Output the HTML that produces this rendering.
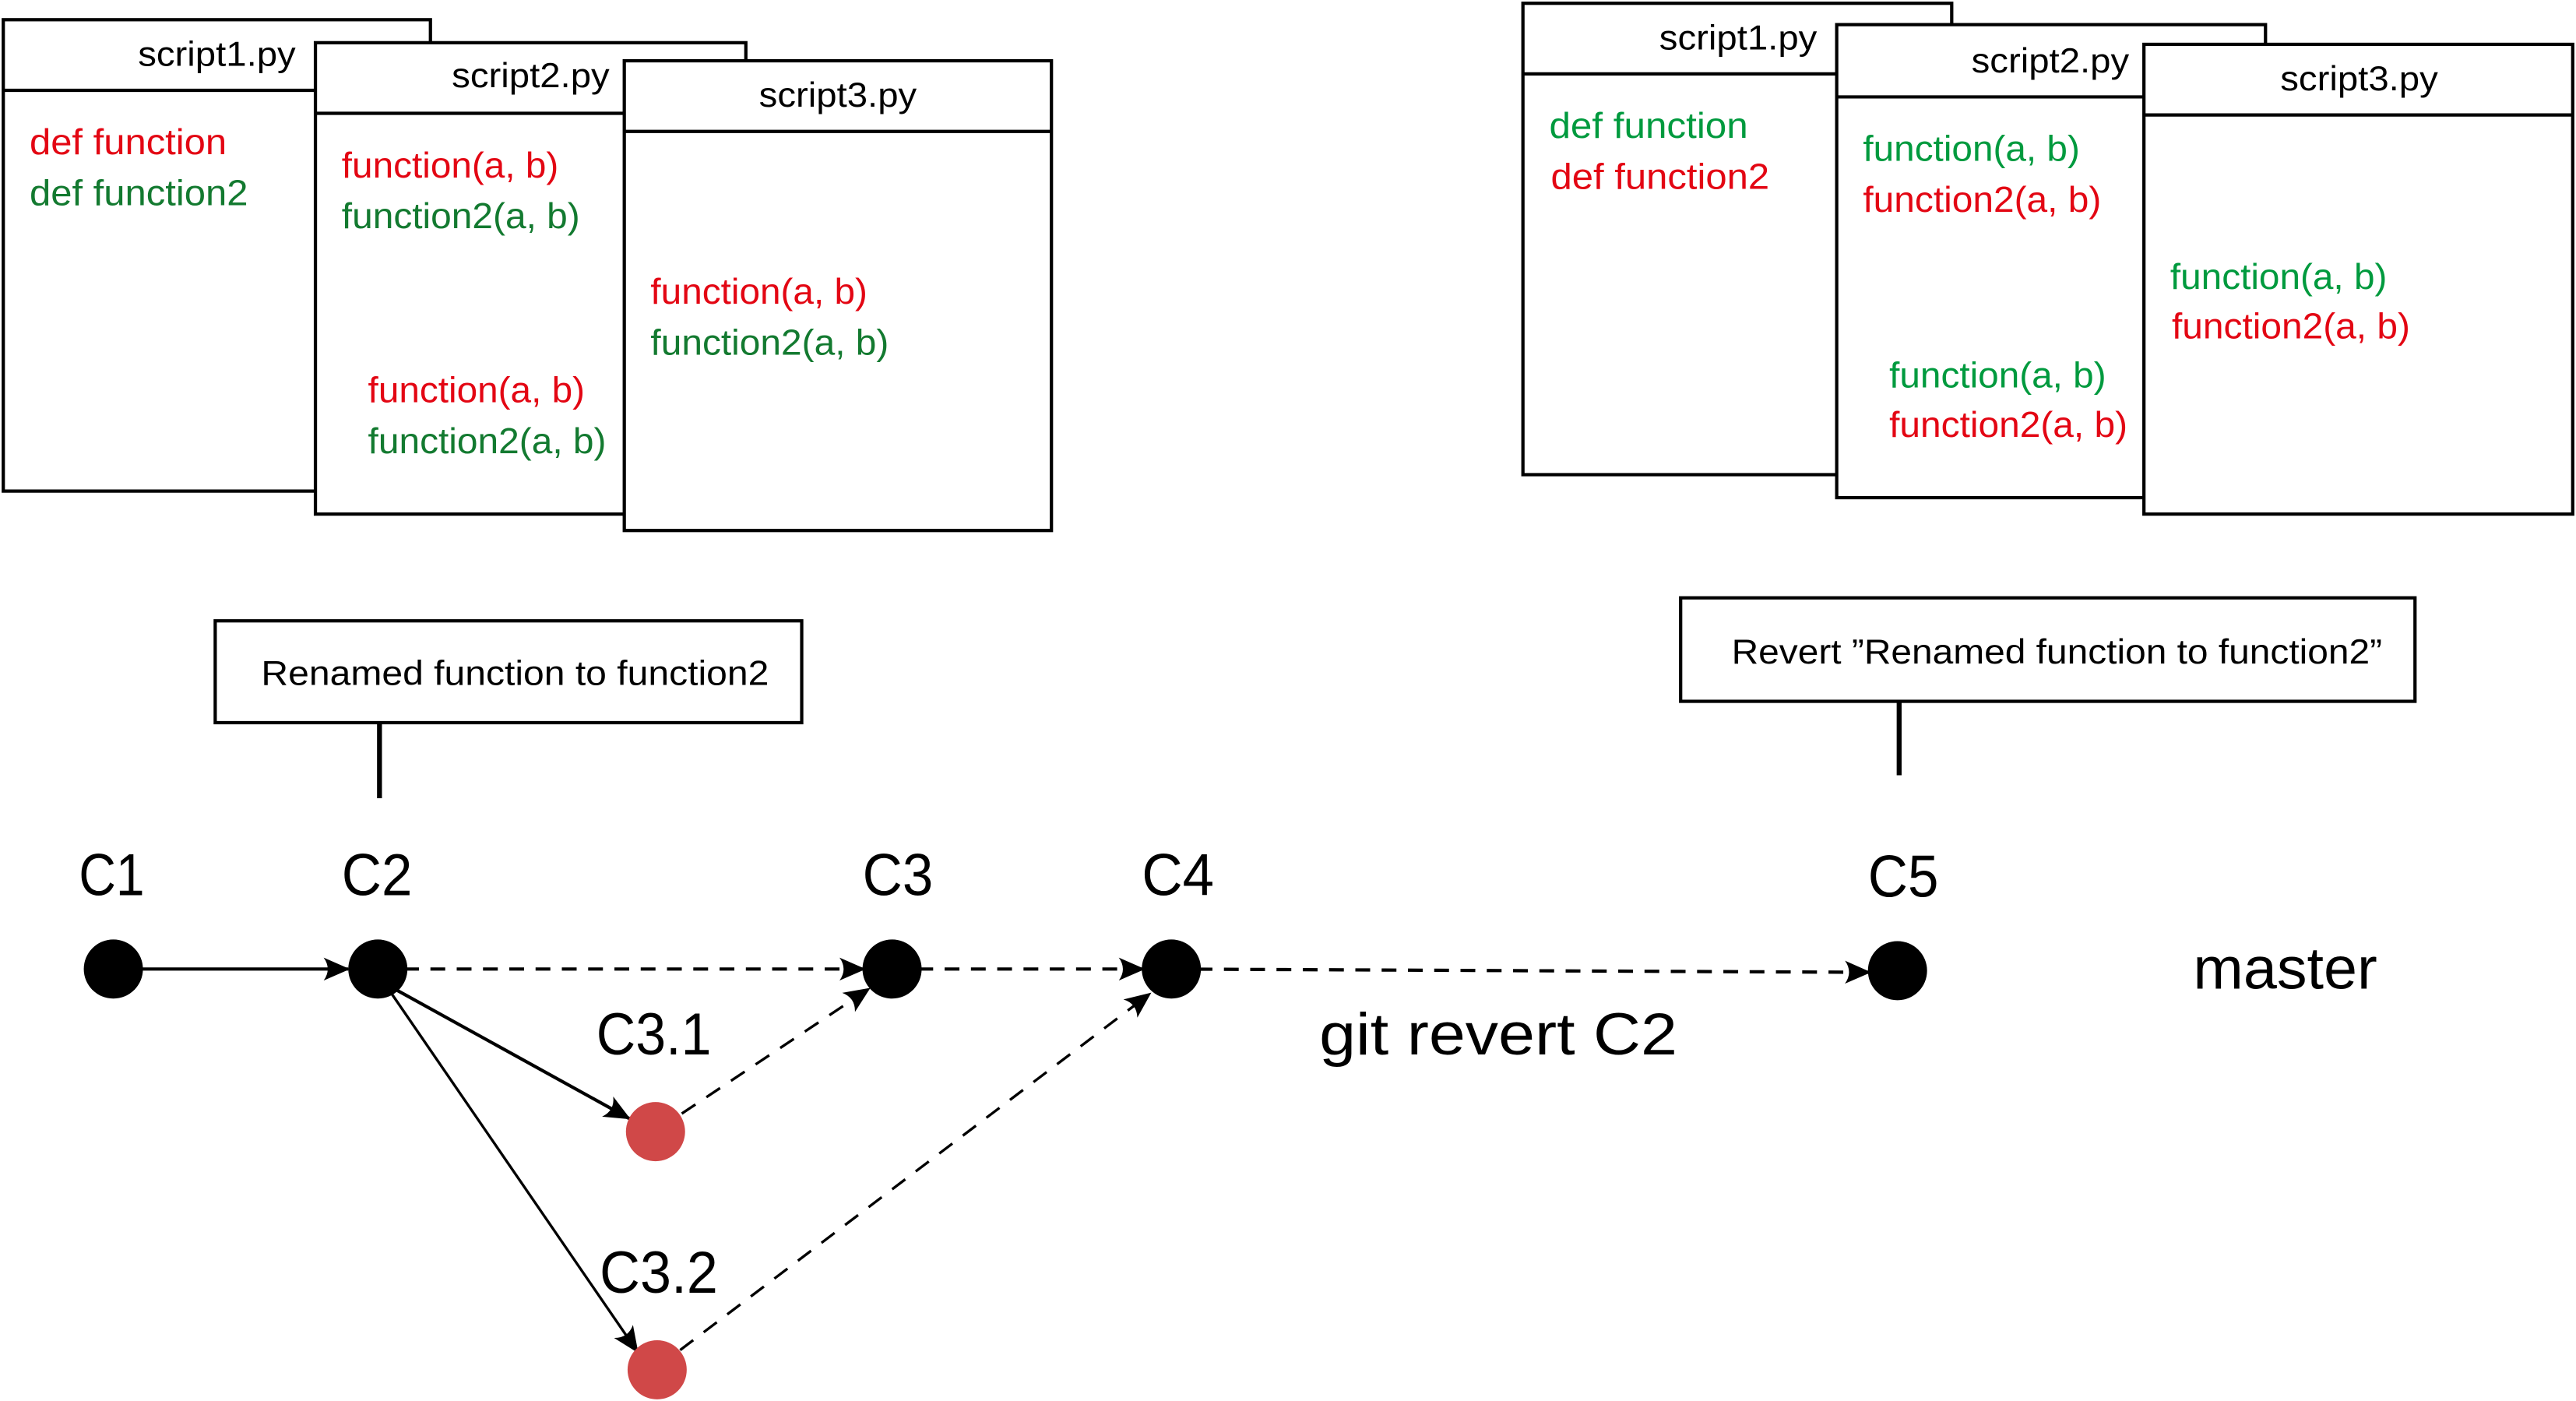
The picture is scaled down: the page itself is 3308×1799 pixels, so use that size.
<!DOCTYPE html>
<html><head><meta charset="utf-8"><style>
html,body{margin:0;padding:0;background:#fff;}
svg{display:block;}
text{font-family:"Liberation Sans",sans-serif;}
</style></head><body>
<svg width="3308" height="1799" viewBox="0 0 1568 853" preserveAspectRatio="none" xmlns="http://www.w3.org/2000/svg">
<defs>
<marker id="a" markerWidth="16" markerHeight="14" refX="15" refY="7" orient="auto" markerUnits="userSpaceOnUse">
<path d="M0,0 L16,7 L0,14 Q5,7 0,0 Z" fill="#000"/>
</marker>
</defs>
<g fill="#fff" stroke="#000" stroke-width="2">
<rect x="2" y="12" width="260" height="287"/><line x1="2" y1="55" x2="262" y2="55"/>
<rect x="192" y="26" width="262" height="287"/><line x1="192" y1="69" x2="454" y2="69"/>
<rect x="380" y="37" width="260" height="286"/><line x1="380" y1="80" x2="640" y2="80"/>
<rect x="927" y="2" width="261" height="287"/><line x1="927" y1="45" x2="1188" y2="45"/>
<rect x="1118" y="15" width="261" height="288"/><line x1="1118" y1="59" x2="1379" y2="59"/>
<rect x="1305" y="27" width="261" height="286"/><line x1="1305" y1="70" x2="1566" y2="70"/>
<rect x="131" y="378" width="357" height="62"/>
<rect x="1023" y="364" width="447" height="63"/>
</g>
<line x1="231" y1="440" x2="231" y2="486" stroke="#000" stroke-width="3"/>
<line x1="1156" y1="427" x2="1156" y2="472" stroke="#000" stroke-width="3"/>
<g font-size="21" fill="#000">
<text x="84" y="40" textLength="96" lengthAdjust="spacingAndGlyphs">script1.py</text>
<text x="275" y="53" textLength="96" lengthAdjust="spacingAndGlyphs">script2.py</text>
<text x="462" y="65" textLength="96" lengthAdjust="spacingAndGlyphs">script3.py</text>
<text x="1010" y="30" textLength="96" lengthAdjust="spacingAndGlyphs">script1.py</text>
<text x="1200" y="44" textLength="96" lengthAdjust="spacingAndGlyphs">script2.py</text>
<text x="1388" y="55" textLength="96" lengthAdjust="spacingAndGlyphs">script3.py</text>
<text x="159" y="417" textLength="309" lengthAdjust="spacingAndGlyphs">Renamed function to function2</text>
<text x="1054" y="404" textLength="396" lengthAdjust="spacingAndGlyphs">Revert ”Renamed function to function2”</text>
</g>
<g font-size="22">
<text x="18" y="94" fill="#e30613" textLength="120" lengthAdjust="spacingAndGlyphs">def function</text>
<text x="18" y="125" fill="#137a30" textLength="133" lengthAdjust="spacingAndGlyphs">def function2</text>
<text x="208" y="108" fill="#e30613" textLength="132" lengthAdjust="spacingAndGlyphs">function(a, b)</text>
<text x="208" y="139" fill="#137a30" textLength="145" lengthAdjust="spacingAndGlyphs">function2(a, b)</text>
<text x="224" y="245" fill="#e30613" textLength="132" lengthAdjust="spacingAndGlyphs">function(a, b)</text>
<text x="224" y="276" fill="#137a30" textLength="145" lengthAdjust="spacingAndGlyphs">function2(a, b)</text>
<text x="396" y="185" fill="#e30613" textLength="132" lengthAdjust="spacingAndGlyphs">function(a, b)</text>
<text x="396" y="216" fill="#137a30" textLength="145" lengthAdjust="spacingAndGlyphs">function2(a, b)</text>
<text x="943" y="84" fill="#009a3e" textLength="121" lengthAdjust="spacingAndGlyphs">def function</text>
<text x="944" y="115" fill="#e30613" textLength="133" lengthAdjust="spacingAndGlyphs">def function2</text>
<text x="1134" y="98" fill="#009a3e" textLength="132" lengthAdjust="spacingAndGlyphs">function(a, b)</text>
<text x="1134" y="129" fill="#e30613" textLength="145" lengthAdjust="spacingAndGlyphs">function2(a, b)</text>
<text x="1150" y="236" fill="#009a3e" textLength="132" lengthAdjust="spacingAndGlyphs">function(a, b)</text>
<text x="1150" y="266" fill="#e30613" textLength="145" lengthAdjust="spacingAndGlyphs">function2(a, b)</text>
<text x="1321" y="176" fill="#009a3e" textLength="132" lengthAdjust="spacingAndGlyphs">function(a, b)</text>
<text x="1322" y="206" fill="#e30613" textLength="145" lengthAdjust="spacingAndGlyphs">function2(a, b)</text>
</g>
<g stroke="#000" fill="none">
<line x1="69" y1="590" x2="212" y2="590" stroke-width="2" marker-end="url(#a)"/>
<line x1="230" y1="590" x2="526" y2="590" stroke-width="2" stroke-dasharray="9,7" marker-end="url(#a)"/>
<line x1="543" y1="590" x2="696" y2="590" stroke-width="2" stroke-dasharray="9,7" marker-end="url(#a)"/>
<line x1="713" y1="590" x2="1138" y2="592" stroke-width="2" stroke-dasharray="9,7" marker-end="url(#a)"/>
<line x1="240" y1="602" x2="383" y2="681" stroke-width="2" marker-end="url(#a)"/>
<line x1="237" y1="603" x2="388" y2="823" stroke-width="1.6" marker-end="url(#a)"/>
<line x1="415" y1="678" x2="529" y2="602" stroke-width="1.6" stroke-dasharray="10,8" marker-end="url(#a)"/>
<line x1="414" y1="822" x2="700" y2="605" stroke-width="1.6" stroke-dasharray="10,8" marker-end="url(#a)"/>
</g>
<g fill="#000">
<circle cx="69" cy="590" r="18"/><circle cx="230" cy="590" r="18"/><circle cx="543" cy="590" r="18"/>
<circle cx="713" cy="590" r="18"/><circle cx="1155" cy="591" r="18"/>
</g>
<circle cx="399" cy="689" r="18" fill="#d04848"/>
<circle cx="400" cy="834" r="18" fill="#d04848"/>
<g font-size="36" fill="#000">
<text x="48" y="545" textLength="40" lengthAdjust="spacingAndGlyphs">C1</text>
<text x="208" y="545" textLength="43" lengthAdjust="spacingAndGlyphs">C2</text>
<text x="525" y="545" textLength="43" lengthAdjust="spacingAndGlyphs">C3</text>
<text x="695" y="545" textLength="44" lengthAdjust="spacingAndGlyphs">C4</text>
<text x="1137" y="546" textLength="43" lengthAdjust="spacingAndGlyphs">C5</text>
<text x="363" y="642" textLength="70" lengthAdjust="spacingAndGlyphs">C3.1</text>
<text x="365" y="787" textLength="72" lengthAdjust="spacingAndGlyphs">C3.2</text>
<text x="803" y="642" textLength="218" lengthAdjust="spacingAndGlyphs">git revert C2</text>
<text x="1335" y="602" textLength="112" lengthAdjust="spacingAndGlyphs">master</text>
</g>
</svg>
</body></html>
